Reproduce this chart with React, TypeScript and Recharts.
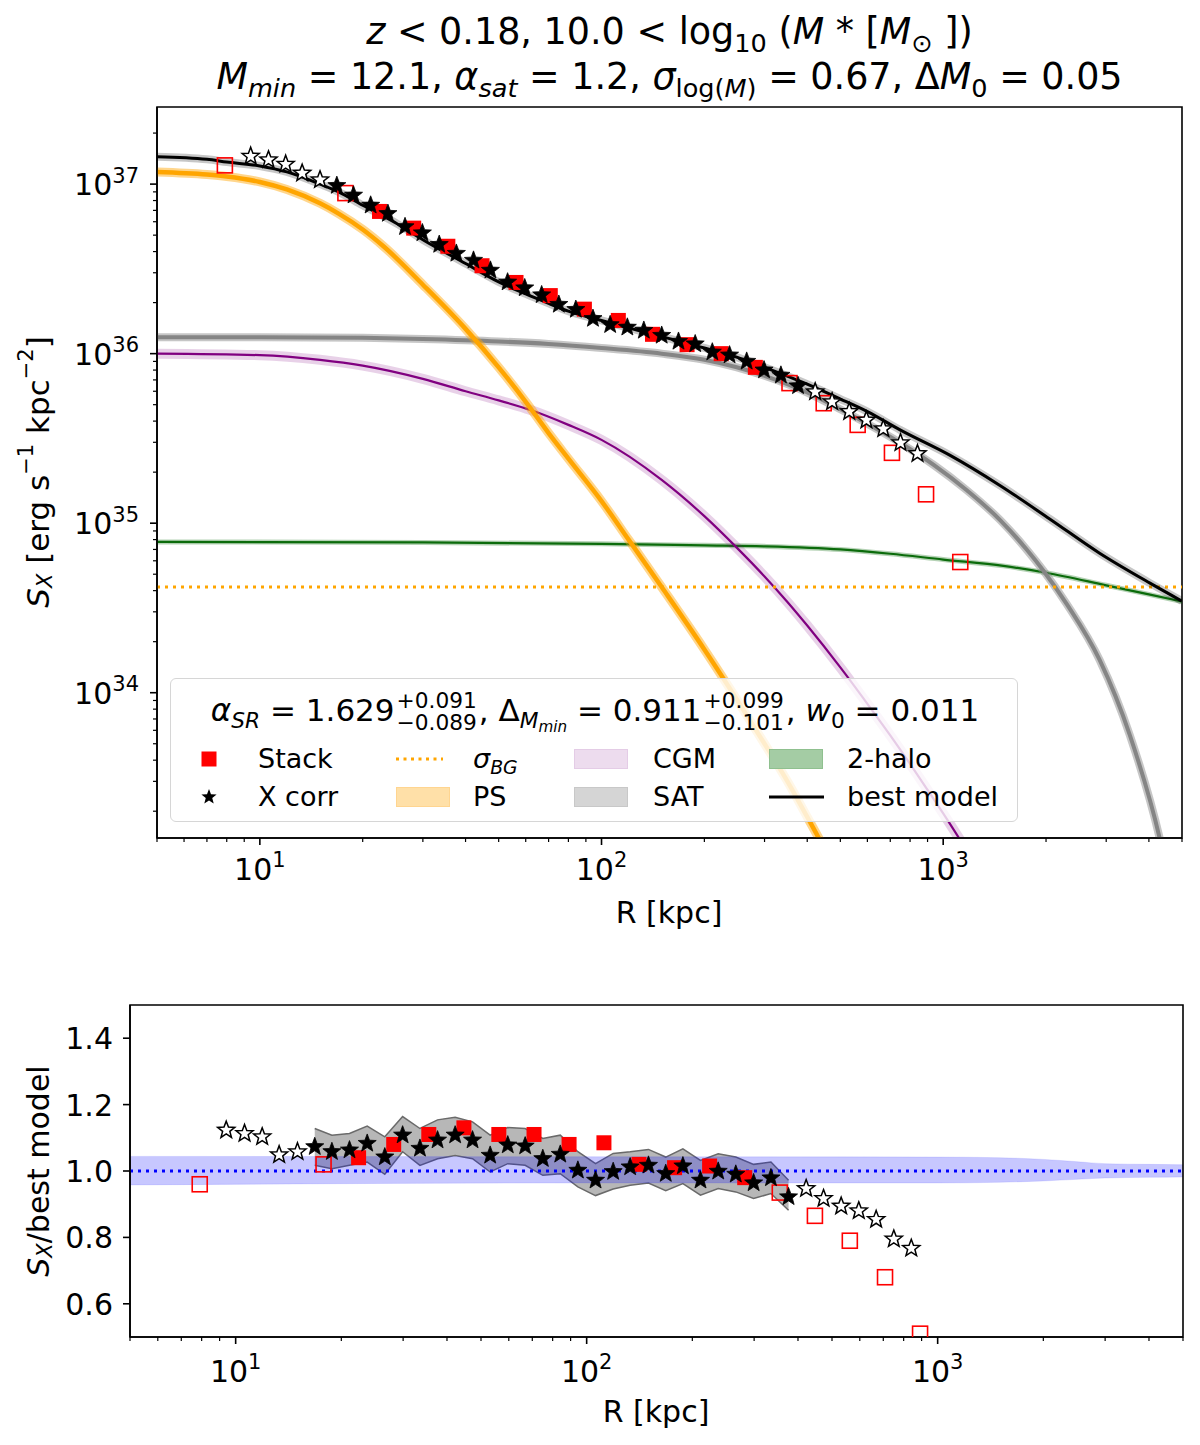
import React from "react";
import { Area, ComposedChart, Legend, Line, ReferenceArea, Scatter, XAxis, YAxis } from "recharts";

const FONT = "'DejaVu Sans', sans-serif";

// ---------- upper panel: S_X profile (R in kpc, S_X in erg/s/kpc^2) ----------
const bestR = [5, 7, 8, 10, 12, 15, 17, 20, 25, 30, 40, 50, 60, 70, 80, 100, 120, 150, 200, 250, 300, 400, 500, 600, 750, 1045, 1466, 2050, 2870, 4030, 5000];
const bestS = [1.45e37, 1.4e37, 1.35e37, 1.28e37, 1.18e37, 1.0e37, 9.0e36, 7.5e36, 5.9e36, 4.7e36, 3.4e36, 2.65e36, 2.25e36, 1.98e36, 1.78e36, 1.57e36, 1.42e36, 1.26e36, 1.08e36, 9.5e35, 8.3e35, 6.6e35, 5.4e35, 4.55e35, 3.54e35, 2.52e35, 1.67e35, 1.06e35, 6.65e34, 4.43e34, 3.47e34];

const psR = [5, 7, 8, 10, 12, 15, 17, 20, 23, 30, 40, 50, 60, 70, 80, 100, 120, 150, 200, 250, 300, 350, 400, 450];
const psS = [1.18e37, 1.14e37, 1.11e37, 1.03e37, 9.3e36, 7.7e36, 6.7e36, 5.4e36, 4.3e36, 2.55e36, 1.4e36, 8.3e35, 5.2e35, 3.4e35, 2.4e35, 1.35e35, 8.0e34, 4.2e34, 1.8e34, 9.0e33, 5.0e33, 3.0e33, 1.85e33, 1.2e33];

const satR = [5, 10, 20, 30, 50, 70, 100, 150, 200, 300, 400, 500, 750, 940, 1170, 1470, 1760, 1960, 2300, 2870, 3520, 4300, 4700];
const satS = [1.25e36, 1.25e36, 1.24e36, 1.22e36, 1.18e36, 1.14e36, 1.08e36, 1.0e36, 9.2e35, 7.4e35, 5.9e35, 4.7e35, 2.97e35, 2.2e35, 1.57e35, 1.04e35, 6.94e34, 5.28e34, 3.33e34, 1.56e34, 5.6e33, 1.39e33, 6.0e32];

const cgmR = [5, 10, 15, 20, 30, 40, 50, 62, 80, 100, 150, 200, 250, 300, 350, 400, 500, 600, 700, 800, 900, 1000, 1200];
const cgmS = [1.0e36, 9.8e35, 9.2e35, 8.5e35, 7.1e35, 6.0e35, 5.3e35, 4.65e35, 3.8e35, 3.1e35, 1.8e35, 1.1e35, 7.1e34, 4.85e34, 3.43e34, 2.49e34, 1.41e34, 8.6e33, 5.6e33, 3.8e33, 2.67e33, 1.94e33, 1.09e33];

const haloR = [5, 30, 100, 200, 300, 500, 700, 1000, 1500, 2000, 3000, 4000, 5000];
const haloS = [7.75e34, 7.7e34, 7.55e34, 7.4e34, 7.3e34, 7.0e34, 6.6e34, 6.1e34, 5.6e34, 5.1e34, 4.3e34, 3.8e34, 3.45e34];

const bgR = [5, 5000];
const bgS = [4.2e34, 4.2e34];

const stackR = [7.9, 17.8, 22.4, 28.2, 35.5, 44.7, 56.2, 70.8, 89.1, 112, 141, 178, 224, 282, 355, 447, 562, 708, 891, 1122];
const stackS = [1.29e37, 8.85e36, 6.9e36, 5.5e36, 4.3e36, 3.3e36, 2.63e36, 2.2e36, 1.83e36, 1.57e36, 1.3e36, 1.13e36, 1.0e36, 8.3e35, 6.7e35, 5.1e35, 3.8e35, 2.6e35, 1.48e35, 5.9e34];
const stackOpen = [1, 1, 0, 0, 0, 0, 0, 0, 0, 0, 0, 0, 0, 0, 1, 1, 1, 1, 1, 1];

const starR = [9.4, 10.6, 11.9, 13.3, 15.0, 16.8, 18.8, 21.1, 23.7, 26.6, 29.9, 33.5, 37.6, 42.2, 47.3, 53.1, 59.6, 66.8, 75.0, 84.1, 94.4, 106, 119, 133, 150, 168, 188, 211, 237, 266, 299, 335, 376, 422, 473, 531, 596, 668, 750, 841];
const starS = [1.46e37, 1.39e37, 1.31e37, 1.16e37, 1.06e37, 9.8e36, 8.6e36, 7.5e36, 6.7e36, 5.6e36, 5.15e36, 4.4e36, 3.9e36, 3.55e36, 3.1e36, 2.64e36, 2.44e36, 2.22e36, 1.95e36, 1.82e36, 1.61e36, 1.48e36, 1.43e36, 1.37e36, 1.28e36, 1.18e36, 1.14e36, 1.02e36, 9.8e35, 9.0e35, 8.0e35, 7.45e35, 6.45e35, 5.95e35, 5.2e35, 4.55e35, 4.05e35, 3.6e35, 2.98e35, 2.57e35];
const starOpen = [1, 1, 1, 1, 1, 0, 0, 0, 0, 0, 0, 0, 0, 0, 0, 0, 0, 0, 0, 0, 0, 0, 0, 0, 0, 0, 0, 0, 0, 0, 0, 0, 0, 1, 1, 1, 1, 1, 1, 1];

// ---------- lower panel: ratio to best model ----------
const stackRatio = [0.96, 1.02, 1.04, 1.08, 1.11, 1.13, 1.11, 1.11, 1.08, 1.085, 1.02, 1.01, 1.015, 0.98, 0.935, 0.865, 0.79, 0.68, 0.51];
const starRatio = [1.123, 1.113, 1.103, 1.049, 1.058, 1.073, 1.058, 1.063, 1.083, 1.042, 1.108, 1.068, 1.093, 1.108, 1.093, 1.047, 1.078, 1.075, 1.037, 1.05, 1.002, 0.972, 0.998, 1.012, 1.017, 0.992, 1.015, 0.972, 0.999, 0.99, 0.964, 0.979, 0.922, 0.947, 0.917, 0.894, 0.88, 0.854, 0.795, 0.767];

const errR = [16.8, 18.8, 21.1, 23.7, 26.6, 29.9, 33.5, 37.6, 42.2, 47.3, 53.1, 59.6, 66.8, 75.0, 84.1, 94.4, 106, 119, 133, 150, 168, 188, 211, 237, 266, 299, 335, 376];
const errLow = [1.017, 1.007, 1.017, 1.027, 0.99, 1.058, 1.017, 1.037, 1.047, 1.037, 0.997, 1.022, 1.017, 0.987, 0.992, 0.952, 0.926, 0.946, 0.957, 0.964, 0.941, 0.962, 0.927, 0.947, 0.937, 0.917, 0.932, 0.882];
const errHigh = [1.128, 1.108, 1.113, 1.135, 1.103, 1.164, 1.128, 1.154, 1.162, 1.148, 1.108, 1.131, 1.128, 1.098, 1.108, 1.058, 1.022, 1.053, 1.058, 1.065, 1.042, 1.067, 1.032, 1.052, 1.042, 1.02, 1.027, 0.972];

const modelErrR = [5, 100, 1000, 1500, 2000, 2500, 3000, 4000, 5000];
const modelErrLow = [0.958, 0.964, 0.964, 0.966, 0.97, 0.975, 0.979, 0.981, 0.982];
const modelErrHigh = [1.044, 1.043, 1.042, 1.04, 1.035, 1.028, 1.022, 1.02, 1.019];

const xTicks = [5, 6, 7, 8, 9, 10, 20, 30, 40, 50, 60, 70, 80, 90, 100, 200, 300, 400, 500, 600, 700, 800, 900, 1000, 2000, 3000, 4000, 5000];
const yDecadesTop = [1e33, 1e34, 1e35, 1e36, 1e37];
const ratioTicks = [0.6, 0.8, 1.0, 1.2, 1.4];

const TOP_DOMAIN: [number, number] = [1.39e33, 2.85e37];
const yTicksTop = yDecadesTop
  .flatMap((d) => [1, 2, 3, 4, 5, 6, 7, 8, 9].map((m) => m * d))
  .filter((v) => v >= TOP_DOMAIN[0] && v <= TOP_DOMAIN[1]);

const pts = (r: number[], v: number[]) => v.map((val, i) => ({ r: r[i], v: val }));
const bestData = pts(bestR, bestS);
const psData = pts(psR, psS);
const satData = pts(satR, satS);
const cgmData = pts(cgmR, cgmS);
const haloData = pts(haloR, haloS);
const bgData = pts(bgR, bgS);
const stackData = stackS.map((v, i) => ({ r: stackR[i], v, open: stackOpen[i] === 1 }));
const starData = starS.map((v, i) => ({ r: starR[i], v, open: starOpen[i] === 1 }));
const stackRatioData = stackRatio.map((v, i) => ({ r: stackR[i], v, open: stackOpen[i] === 1 }));
const starRatioData = starRatio.map((v, i) => ({ r: starR[i], v, open: starOpen[i] === 1 }));
const errData = errR.map((r, i) => ({ r, band: [errLow[i], errHigh[i]] }));
const modelErrData = modelErrR.map((r, i) => ({ r, band: [modelErrLow[i], modelErrHigh[i]] }));
const unityData = [{ r: 5, v: 1 }, { r: 5000, v: 1 }];

const isDecade = (v: number) => {
  const l = Math.log10(v);
  return Math.abs(l - Math.round(l)) < 1e-6;
};

function LogXTick(props: any) {
  const { x, y, payload, fs, dy } = props;
  const major = isDecade(payload.value);
  return (
    <g>
      <line x1={x} x2={x} y1={y} y2={y + (major ? 7 : 4)} stroke="#000" strokeWidth={major ? 1.6 : 1.2} />
      {major && (
        <text x={x} y={y + dy} textAnchor="middle" fontFamily={FONT} fontSize={fs} fill="#000">
          10<tspan fontSize={fs * 0.7} dy={-fs * 0.42}>{Math.round(Math.log10(payload.value))}</tspan>
        </text>
      )}
    </g>
  );
}

function LogYTick(props: any) {
  const { x, y, payload, fs } = props;
  const major = isDecade(payload.value);
  return (
    <g>
      <line x1={x - (major ? 7 : 4)} x2={x} y1={y} y2={y} stroke="#000" strokeWidth={major ? 1.6 : 1.2} />
      {major && (
        <text x={x - 18} y={y + 11} textAnchor="end" fontFamily={FONT} fontSize={fs} fill="#000">
          10<tspan fontSize={fs * 0.7} dy={-fs * 0.42}>{Math.round(Math.log10(payload.value))}</tspan>
        </text>
      )}
    </g>
  );
}

function RatioTick(props: any) {
  const { x, y, payload } = props;
  return (
    <g>
      <line x1={x - 7} x2={x} y1={y} y2={y} stroke="#000" strokeWidth={1.6} />
      <text x={x - 17} y={y + 11} textAnchor="end" fontFamily={FONT} fontSize={30} fill="#000">
        {Number(payload.value).toFixed(1)}
      </text>
    </g>
  );
}

function XTitle({ cx, cy }: any) {
  return (
    <text x={cx} y={cy} textAnchor="middle" fontFamily={FONT} fontSize={30} fill="#000">
      R [kpc]
    </text>
  );
}

function YTitleTop({ cx, cy }: any) {
  return (
    <text x={cx} y={cy} transform={`rotate(-90, ${cx}, ${cy})`} textAnchor="middle" dominantBaseline="central" fontFamily={FONT} fontSize={31} fill="#000">
      <tspan fontStyle="italic">S</tspan>
      <tspan fontStyle="italic" fontSize={21} dy={7}>X</tspan>
      <tspan dy={-7}> [erg s</tspan>
      <tspan fontSize={21} dy={-12}>−1</tspan>
      <tspan dy={12}> kpc</tspan>
      <tspan fontSize={21} dy={-12}>−2</tspan>
      <tspan dy={12}>]</tspan>
    </text>
  );
}

function YTitleBottom({ cx, cy }: any) {
  return (
    <text x={cx} y={cy} transform={`rotate(-90, ${cx}, ${cy})`} textAnchor="middle" dominantBaseline="central" fontFamily={FONT} fontSize={30} fill="#000">
      <tspan fontStyle="italic">S</tspan>
      <tspan fontStyle="italic" fontSize={21} dy={7}>X</tspan>
      <tspan dy={-7}>/best model</tspan>
    </text>
  );
}

function starPoints(cx: number, cy: number, ro: number, ri: number) {
  const out: string[] = [];
  for (let i = 0; i < 10; i++) {
    const a = -Math.PI / 2 + (i * Math.PI) / 5;
    const rad = i % 2 === 0 ? ro : ri;
    out.push(`${cx + rad * Math.cos(a)},${cy + rad * Math.sin(a)}`);
  }
  return out.join(" ");
}

function SquareShape(props: any) {
  const { cx, cy, payload } = props;
  if (cx == null || cy == null) return null;
  const h = 7.5;
  return payload.open ? (
    <rect x={cx - h} y={cy - h} width={2 * h} height={2 * h} fill="none" stroke="#ff0000" strokeWidth={1.6} />
  ) : (
    <rect x={cx - h} y={cy - h} width={2 * h} height={2 * h} fill="#ff0000" />
  );
}

function StarShape(props: any) {
  const { cx, cy, payload } = props;
  if (cx == null || cy == null) return null;
  return payload.open ? (
    <polygon points={starPoints(cx, cy, 9, 3.8)} fill="#fff" stroke="#000" strokeWidth={1.5} />
  ) : (
    <polygon points={starPoints(cx, cy, 9.5, 4)} fill="#000" stroke="#000" strokeWidth={0.8} />
  );
}

const sub = (c: React.ReactNode) => (
  <span style={{ fontSize: "0.7em", position: "relative", top: "0.3em" }}>{c}</span>
);
const stacked = (up: string, down: string) => (
  <span style={{ display: "inline-flex", flexDirection: "column", fontSize: "0.7em", lineHeight: "1em", verticalAlign: "middle", position: "relative", top: "-0.05em", textAlign: "left", margin: "0 2px" }}>
    <span>{up}</span>
    <span>{down}</span>
  </span>
);

function Title() {
  const line: React.CSSProperties = { position: "absolute", left: 157, width: 1025, textAlign: "center", fontSize: 36.5, lineHeight: "36.5px", whiteSpace: "nowrap", fontFamily: FONT };
  return (
    <>
      <div style={{ ...line, top: 14 }}>
        <i>z</i> &lt; 0.18, 10.0 &lt; log{sub("10")} (<i>M</i> * [<i>M</i>{sub("⊙")} ])
      </div>
      <div style={{ ...line, top: 59 }}>
        <i>M</i>{sub(<i>min</i>)} = 12.1, <i>α</i>{sub(<i>sat</i>)} = 1.2, <i>σ</i>{sub(<>log(<i>M</i>)</>)} = 0.67, Δ<i>M</i>{sub("0")} = 0.05
      </div>
    </>
  );
}

function Patch({ x, y, fill, border }: any) {
  return <div style={{ position: "absolute", left: x, top: y, width: 54, height: 20, background: fill, border: `1.5px solid ${border}`, boxSizing: "border-box" }} />;
}

function Label({ x, y, children }: any) {
  return (
    <div style={{ position: "absolute", left: x, top: y - 18, height: 36, lineHeight: "36px", fontSize: 27, whiteSpace: "nowrap" }}>{children}</div>
  );
}

function LegendBox() {
  const r1 = 80;
  const r2 = 118;
  return (
    <div style={{ position: "relative", width: 848, height: 144, boxSizing: "border-box", border: "1.5px solid #d6d6d6", borderRadius: 6, background: "rgba(255,255,255,0.8)", fontFamily: FONT, color: "#000" }}>
      <div style={{ position: "absolute", left: 0, width: 848, top: 12, textAlign: "center", fontSize: 31, lineHeight: "31px", whiteSpace: "nowrap" }}>
        <i>α</i>{sub(<i>SR</i>)} = 1.629{stacked("+0.091", "−0.089")}, Δ{sub(<><i>M</i><span style={{ fontSize: "0.7em", position: "relative", top: "0.3em" }}><i>min</i></span></>)} = 0.911{stacked("+0.099", "−0.101")}, <i>w</i>{sub("0")} = 0.011
      </div>
      <svg width={848} height={144} style={{ position: "absolute", left: 0, top: 0 }}>
        <rect x={30.5} y={r1 - 7.5} width={15} height={15} fill="#ff0000" />
        <polygon points={starPoints(38, r2, 8, 3.4)} fill="#000" />
        <line x1={225} x2={272} y1={r1} y2={r1} stroke="#FFA500" strokeWidth={3} strokeDasharray="3 4.5" />
        <line x1={598} x2={653} y1={r2} y2={r2} stroke="#000" strokeWidth={3} />
      </svg>
      <Patch x={225} y={r2 - 10} fill="#FFE0A8" border="#FFD590" />
      <Patch x={403} y={r1 - 10} fill="#EDDCEE" border="#E4CCE6" />
      <Patch x={403} y={r2 - 10} fill="#D5D5D5" border="#C8C8C8" />
      <Patch x={598} y={r1 - 10} fill="#A4CCA4" border="#8FC08F" />
      <Label x={87} y={r1}>Stack</Label>
      <Label x={87} y={r2}>X corr</Label>
      <Label x={302} y={r1}><i>σ</i>{sub(<i>BG</i>)}</Label>
      <Label x={302} y={r2}>PS</Label>
      <Label x={482} y={r1}>CGM</Label>
      <Label x={482} y={r2}>SAT</Label>
      <Label x={676} y={r1}>2-halo</Label>
      <Label x={676} y={r2}>best model</Label>
    </div>
  );
}

const axisLine = { stroke: "#000", strokeWidth: 1.6 };

export default function App() {
  return (
    <div style={{ position: "absolute", left: 0, top: 0, width: 1200, height: 1445, background: "#fff", fontFamily: FONT }}>
      <Title />
      <div style={{ position: "absolute", left: 0, top: 0 }}>
        <ComposedChart width={1200} height={940} margin={{ top: 107, right: 18, bottom: 0, left: 0 }}>
          <XAxis dataKey="r" type="number" scale="log" domain={[5, 5000]} allowDataOverflow ticks={xTicks} interval={0} tickSize={0} tickMargin={0} tickLine={false} tick={<LogXTick fs={30} dy={42} />} axisLine={axisLine} height={102} label={<XTitle cx={669} cy={923} />} />
          <YAxis type="number" scale="log" domain={TOP_DOMAIN} allowDataOverflow ticks={yTicksTop} interval={0} tickSize={0} tickMargin={0} tickLine={false} tick={<LogYTick fs={30} />} axisLine={axisLine} width={157} label={<YTitleTop cx={38} cy={472} />} />
          <Line data={haloData} dataKey="v" type="monotone" stroke="#0b6b0b" strokeOpacity={0.3} strokeWidth={5} dot={false} activeDot={false} isAnimationActive={false} />
          <Line data={haloData} dataKey="v" type="monotone" stroke="#0b6b0b" strokeWidth={2.2} dot={false} activeDot={false} isAnimationActive={false} />
          <Line data={cgmData} dataKey="v" type="monotone" stroke="#800080" strokeOpacity={0.18} strokeWidth={10} dot={false} activeDot={false} isAnimationActive={false} />
          <Line data={cgmData} dataKey="v" type="monotone" stroke="#800080" strokeWidth={2.2} dot={false} activeDot={false} isAnimationActive={false} />
          <Line data={satData} dataKey="v" type="monotone" stroke="#808080" strokeOpacity={0.45} strokeWidth={8} dot={false} activeDot={false} isAnimationActive={false} />
          <Line data={satData} dataKey="v" type="monotone" stroke="#858585" strokeWidth={4} dot={false} activeDot={false} isAnimationActive={false} />
          <Line data={psData} dataKey="v" type="monotone" stroke="#FFA500" strokeOpacity={0.45} strokeWidth={9} dot={false} activeDot={false} isAnimationActive={false} />
          <Line data={psData} dataKey="v" type="monotone" stroke="#FFA500" strokeWidth={4.5} dot={false} activeDot={false} isAnimationActive={false} />
          <Line data={bgData} dataKey="v" type="linear" stroke="#FFA500" strokeWidth={3} strokeDasharray="3 5" dot={false} activeDot={false} isAnimationActive={false} />
          <Line data={bestData} dataKey="v" type="monotone" stroke="#000" strokeOpacity={0.22} strokeWidth={8} dot={false} activeDot={false} isAnimationActive={false} />
          <Line data={bestData} dataKey="v" type="monotone" stroke="#000" strokeWidth={3} dot={false} activeDot={false} isAnimationActive={false} />
          <Scatter data={stackData} dataKey="v" shape={<SquareShape />} isAnimationActive={false} />
          <Scatter data={starData} dataKey="v" shape={<StarShape />} isAnimationActive={false} />
          <ReferenceArea x1={5} x2={5000} y1={TOP_DOMAIN[0]} y2={TOP_DOMAIN[1]} fill="none" stroke="#000" strokeWidth={1.6} ifOverflow="visible" />
          <Legend content={() => <LegendBox />} layout="horizontal" verticalAlign="middle" align="center" wrapperStyle={{ left: 170, top: 678, width: 848, height: 144 }} />
        </ComposedChart>
      </div>
      <div style={{ position: "absolute", left: 0, top: 960 }}>
        <ComposedChart width={1200} height={485} margin={{ top: 45, right: 17, bottom: 0, left: 0 }}>
          <XAxis dataKey="r" type="number" scale="log" domain={[5, 5000]} allowDataOverflow ticks={xTicks} interval={0} tickSize={0} tickMargin={0} tickLine={false} tick={<LogXTick fs={30} dy={45} />} axisLine={axisLine} height={108} label={<XTitle cx={656} cy={462} />} />
          <YAxis type="number" domain={[0.5, 1.5]} allowDataOverflow ticks={ratioTicks} interval={0} tickSize={0} tickMargin={0} tickLine={false} tick={<RatioTick />} axisLine={axisLine} width={130} label={<YTitleBottom cx={38} cy={211} />} />
          <Area data={errData} dataKey="band" type="linear" stroke="#6a6a6a" strokeWidth={1.5} fill="#8a8a8a" fillOpacity={0.62} dot={false} activeDot={false} isAnimationActive={false} />
          <Area data={modelErrData} dataKey="band" type="monotone" stroke="#3333ff" strokeOpacity={0.12} fill="#0000ff" fillOpacity={0.22} dot={false} activeDot={false} isAnimationActive={false} />
          <Line data={unityData} dataKey="v" type="linear" stroke="#0000ff" strokeWidth={3} strokeDasharray="3 5" dot={false} activeDot={false} isAnimationActive={false} />
          <Scatter data={stackRatioData} dataKey="v" shape={<SquareShape />} isAnimationActive={false} />
          <Scatter data={starRatioData} dataKey="v" shape={<StarShape />} isAnimationActive={false} />
          <ReferenceArea x1={5} x2={5000} y1={0.5} y2={1.5} fill="none" stroke="#000" strokeWidth={1.6} ifOverflow="visible" />
        </ComposedChart>
      </div>
    </div>
  );
}
